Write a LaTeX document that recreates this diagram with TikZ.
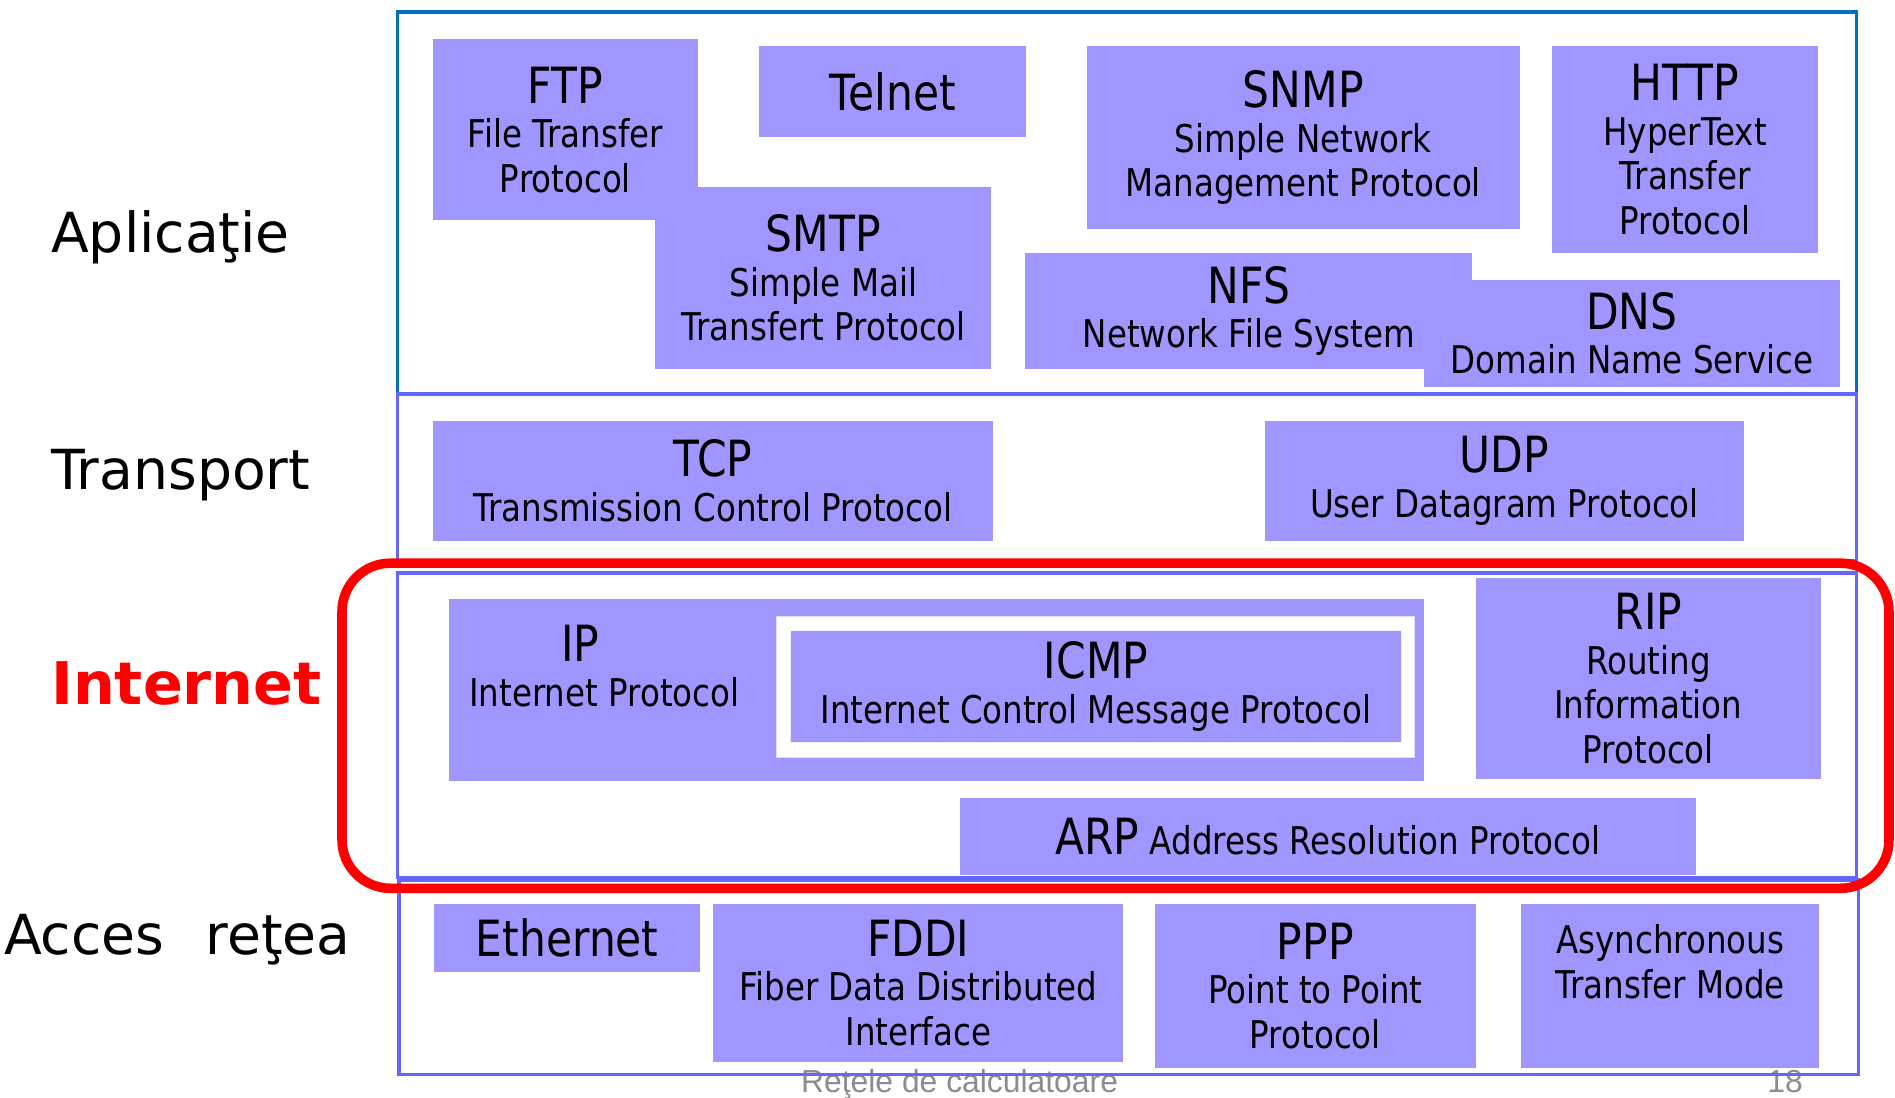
\documentclass[tikz,border=0pt]{standalone}
\usepackage{fontspec}
\setmainfont{DejaVu Sans}
\newfontfamily\protofont[FakeStretch=0.85]{DejaVu Sans}
\newfontfamily\footfont{Liberation Sans}
\definecolor{protofill}{RGB}{159,151,255}
\definecolor{layerline}{RGB}{102,102,255}
\definecolor{appline}{RGB}{0,112,192}
\definecolor{footgray}{RGB}{140,140,140}
\newcommand{\ptitle}[1]{{\fontsize{23.5}{26}\selectfont #1}}
\tikzset{
    proto/.style 2 args={fill=protofill, inner sep=0pt, align=center, anchor=north west,
        minimum width=#1*0.02cm, minimum height=#2*0.02cm,
        font=\protofont\fontsize{18}{21}\selectfont},
    prototext/.style={align=center, inner sep=0pt, font=\protofont\fontsize{18}{21}\selectfont},
    layer/.style={anchor=base west, inner sep=0pt, font=\fontsize{26}{30}\selectfont},
    frame/.style={draw=layerline, line width=1.6pt},
    footnote/.style={inner sep=0pt, text=footgray, font=\footfont\fontsize{15}{16}\selectfont},
}

\begin{document}
\begin{tikzpicture}[x=0.02cm, y=-0.02cm]
    \clip (0,0) rectangle (1568,908);
    \fill[white] (0,0) rectangle (1568,908);

    \node[footnote, anchor=base] (footer) at (794,904) {Reţele de calculatoare};
    \node[footnote, anchor=base east] (pagenr) at (1492,904) {18};

    \draw[draw=appline, line width=1.6pt] (329,10) rectangle (1536,326);
    \draw[frame] (329,326) rectangle (1536,464);
    \draw[frame] (329,474) rectangle (1536,726);
    \draw[frame] (330,728) rectangle (1538,889);

    \node[layer] (lapp) at (42,209) {Aplicaţie};
    \node[layer] (ltrans) at (42,405) {Transport};
    \node[layer, font=\fontsize{27.7}{30}\selectfont\bfseries, text=red] (linet) at (42,583) {Internet};
    \node[layer] (lacces) at (3,790) {Acces\hspace{0.75em}reţea};

    \node[proto={219}{150}] (ftp) at (358,32) {\ptitle{FTP}\\ File Transfer\\ Protocol};
    \node[proto={278}{151}] (smtp) at (542,154) {\ptitle{SMTP}\\ Simple Mail\\ Transfert Protocol};
    \node[proto={221}{75}] (telnet) at (628,38) {\ptitle{Telnet}};
    \node[proto={358}{151}] (snmp) at (899,38) {\ptitle{SNMP}\\ Simple Network\\ Management Protocol};
    \node[proto={220}{171}] (http) at (1284,38) {\ptitle{HTTP}\\ HyperText\\ Transfer\\ Protocol};
    \node[proto={370}{96}] (nfs) at (848,209) {\ptitle{NFS}\\ Network File System};
    \node[proto={344}{89}] (dns) at (1178,231) {\ptitle{DNS}\\ Domain Name Service};

    \node[proto={463}{99}] (tcp) at (358,348) {\ptitle{TCP}\\ Transmission Control Protocol};
    \node[proto={397}{99}] (udp) at (1046,348) {\ptitle{UDP}\\ User Datagram Protocol};

    \node[proto={807}{151}] (ip) at (371,495) {};
    \node[prototext] (iptext) at (500,551) {\ptitle{IP}\hspace*{0.8cm}\\ Internet Protocol};
    \node[proto={528}{116}, fill=white, draw=black!12, line width=0.5pt] (icmpframe) at (642,510) {};
    \node[proto={505}{93}, draw=white!85!protofill, line width=0.5pt] (icmp) at (654,521) {\ptitle{ICMP}\\ Internet Control Message Protocol};
    \node[proto={285}{166}] (rip) at (1221,478) {\ptitle{RIP}\\ Routing\\ Information\\ Protocol};
    \node[proto={609}{64}] (arp) at (794,660) {\ptitle{ARP} Address Resolution Protocol};

    \node[proto={220}{56}] (ethernet) at (359,748) {\ptitle{Ethernet}};
    \node[proto={339}{130}] (fddi) at (590,748) {\ptitle{FDDI}\\ Fiber Data Distributed\\ Interface};
    \node[proto={266}{135}] (ppp) at (955,748) {\ptitle{PPP}\\ Point to Point\\ Protocol};
    \node[proto={247}{135}] (atm) at (1258,748) {};
    \node[prototext] (atmtext) at (1382,796) {Asynchronous\\ Transfer Mode};

    \draw[red, line width=4.5pt, rounded corners=0.8cm] (283,466) rectangle (1563,735);
\end{tikzpicture}
\end{document}
